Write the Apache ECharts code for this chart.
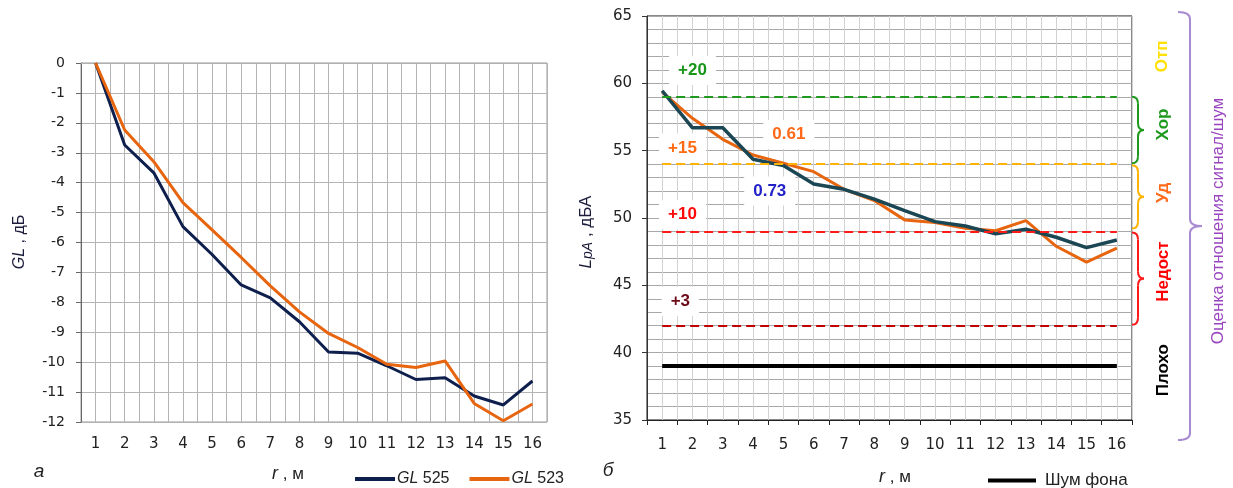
<!DOCTYPE html>
<html>
<head>
<meta charset="utf-8">
<script src="https://cdn.jsdelivr.net/npm/echarts@6/dist/echarts.min.js"></script>
<style>
html,body{margin:0;padding:0;background:#fff;}
#c{width:1233px;height:488px;}
</style>
</head>
<body>
<div id="c"></div>
<script>
// ---- data ----
const categories = ['1','2','3','4','5','6','7','8','9','10','11','12','13','14','15','16'];
const gl525 = [0, -2.74, -3.67, -5.47, -6.4, -7.42, -7.85, -8.65, -9.66, -9.7, -10.12, -10.58, -10.52, -11.13, -11.43, -10.63];
const gl523 = [0, -2.24, -3.3, -4.67, -5.58, -6.5, -7.45, -8.32, -9.04, -9.51, -10.07, -10.18, -9.96, -11.38, -11.96, -11.4];
const lpaTeal = [59.45, 56.7, 56.7, 54.36, 53.89, 52.53, 52.13, 51.4, 50.55, 49.73, 49.41, 48.82, 49.16, 48.57, 47.8, 48.37];
const lpaOrange = [59.35, 57.4, 55.84, 54.68, 54.07, 53.44, 52.13, 51.3, 49.86, 49.66, 49.24, 49.05, 49.8, 47.9, 46.72, 47.77];
const thresholds = [59, 54, 49, 42];
const thresholdLabels = ['+20', '+15', '+10', '+3'];
const noiseLevel = 39;
const corrLabels = ['0.61', '0.73'];
const yTicksLeft = {min: -12, max: 0, step: 1};
const yTicksRight = {min: 35, max: 65, step: 5};

const FT = 'DejaVu Sans';
const FA = 'Liberation Sans';
const thColors = ['#1f9a1f', '#ffb300', '#ff1a1a', '#c00000'];

const chart = echarts.init(document.getElementById('c'), null, {renderer: 'canvas'});

function thresholdMark(i) {
  return {
    silent: true, symbol: 'none', label: {show: false},
    lineStyle: {color: thColors[i], type: [9, 5], width: 2},
    data: [[{coord: [categories[0], thresholds[i]]}, {coord: [categories[categories.length - 1], thresholds[i]]}]]
  };
}

const option = {
  animation: false,
  backgroundColor: '#fff',
  grid: [
    {left: 81, top: 63, width: 466, height: 359, show: true, borderColor: '#999', borderWidth: 1},
    {left: 647, top: 16, width: 485, height: 404, show: true, borderColor: '#111', borderWidth: 1}
  ],
  xAxis: [
    {type: 'category', gridIndex: 0, data: categories, boundaryGap: true,
     axisLine: {lineStyle: {color: '#b0b0b0'}}, axisTick: {show: false},
     axisLabel: {fontFamily: FT, fontSize: 15, color: '#222', margin: 15}, splitLine: {show: false}},
    {type: 'value', gridIndex: 0, min: 0.5, max: 16.5, interval: 0.5,
     axisLine: {show: false}, axisTick: {show: false}, axisLabel: {show: false},
     splitLine: {show: true, lineStyle: {color: '#b4b4b4', width: 1}}},
    {type: 'category', gridIndex: 1, data: categories, boundaryGap: true,
     axisLine: {lineStyle: {color: '#222'}}, axisTick: {show: true, length: 5, lineStyle: {color: '#222'}},
     axisLabel: {fontFamily: FT, fontSize: 15, color: '#222', margin: 18}, splitLine: {show: false}},
    {type: 'value', gridIndex: 1, min: 0.5, max: 16.5, interval: 0.5,
     axisLine: {show: false}, axisTick: {show: false}, axisLabel: {show: false},
     splitLine: {show: true, lineStyle: {color: '#d2d2d2', width: 1}}}
  ],
  yAxis: [
    {type: 'value', gridIndex: 0, min: yTicksLeft.min, max: yTicksLeft.max, interval: yTicksLeft.step,
     axisLine: {show: true, lineStyle: {color: '#666'}}, axisTick: {show: true, length: 5, lineStyle: {color: '#666'}},
     axisLabel: {fontFamily: FT, fontSize: 14, color: '#222', margin: 16},
     splitLine: {show: true, lineStyle: {color: '#b4b4b4'}}},
    {type: 'value', gridIndex: 1, min: yTicksRight.min, max: yTicksRight.max, interval: yTicksRight.step,
     axisLine: {show: true, lineStyle: {color: '#333'}}, axisTick: {show: true, length: 5, lineStyle: {color: '#333'}},
     axisLabel: {fontFamily: FT, fontSize: 15, color: '#222', margin: 15},
     splitLine: {show: true, lineStyle: {color: '#a8a8a8'}},
     minorTick: {show: false, splitNumber: 5},
     minorSplitLine: {show: true, lineStyle: {color: '#a8a8a8'}}}
  ],
  legend: [
    {left: 350, top: 466, itemWidth: 40, itemHeight: 4, icon: 'rect', itemGap: 20,
     data: ['GL 525', 'GL 523'],
     formatter: n => '{i|GL} ' + n.split(' ')[1],
     textStyle: {fontFamily: FA, fontSize: 16, color: '#222', padding: [0, 0, 0, -3],
                 rich: {i: {fontFamily: FA, fontSize: 16, fontStyle: 'italic', color: '#222'}}}},
    {left: 983, top: 467, itemWidth: 48, itemHeight: 4, icon: 'rect',
     data: ['Шум фона'],
     textStyle: {fontFamily: FA, fontSize: 17, color: '#222', padding: [0, 0, 0, 4]}}
  ],
  series: [
    {name: 'GL 525', type: 'line', xAxisIndex: 0, yAxisIndex: 0, data: gl525, symbol: 'none',
     lineStyle: {color: '#0e1f4d', width: 3}, itemStyle: {color: '#0e1f4d'}, z: 3},
    {name: 'GL 523', type: 'line', xAxisIndex: 0, yAxisIndex: 0, data: gl523, symbol: 'none',
     lineStyle: {color: '#e8650f', width: 3}, itemStyle: {color: '#e8650f'}, z: 4},
    {name: 'th1', type: 'line', xAxisIndex: 2, yAxisIndex: 1, data: [], symbol: 'none', markLine: thresholdMark(0)},
    {name: 'th2', type: 'line', xAxisIndex: 2, yAxisIndex: 1, data: [], symbol: 'none', markLine: thresholdMark(1)},
    {name: 'th3', type: 'line', xAxisIndex: 2, yAxisIndex: 1, data: [], symbol: 'none', markLine: thresholdMark(2)},
    {name: 'th4', type: 'line', xAxisIndex: 2, yAxisIndex: 1, data: [], symbol: 'none', markLine: thresholdMark(3)},
    {name: 'Шум фона', type: 'line', xAxisIndex: 2, yAxisIndex: 1, data: [], symbol: 'none',
     itemStyle: {color: '#000'}, lineStyle: {color: '#000', width: 4},
     markLine: {silent: true, symbol: 'none', label: {show: false}, lineStyle: {color: '#000', type: 'solid', width: 4},
       data: [[{coord: [categories[0], noiseLevel]}, {coord: [categories[categories.length - 1], noiseLevel]}]]}},
    {name: 'LpA 523', type: 'line', xAxisIndex: 2, yAxisIndex: 1, data: lpaOrange, symbol: 'none',
     lineStyle: {color: '#e8650f', width: 3}, itemStyle: {color: '#e8650f'}, z: 3},
    {name: 'LpA 525', type: 'line', xAxisIndex: 2, yAxisIndex: 1, data: lpaTeal, symbol: 'none',
     lineStyle: {color: '#1b4654', width: 3.5}, itemStyle: {color: '#1b4654'}, z: 4},
    {name: 'labels', type: 'scatter', xAxisIndex: 3, yAxisIndex: 1, symbol: 'circle', symbolSize: 1,
     itemStyle: {color: 'rgba(255,255,255,0)', opacity: 1}, z: 6, silent: true,
     label: {show: true, position: 'inside', fontFamily: FA, fontWeight: 'bold', fontSize: 17,
             backgroundColor: '#fff', padding: [6, 9], opacity: 1},
     data: [
       {value: [2.0, 60.95], label: {formatter: thresholdLabels[0], color: '#17961a'}},
       {value: [1.67, 55.2], label: {formatter: thresholdLabels[1], color: '#ff6a12'}},
       {value: [1.67, 50.25], label: {formatter: thresholdLabels[2], color: '#ff0a0a'}},
       {value: [1.6, 43.8], label: {formatter: thresholdLabels[3], color: '#6e0a18'}},
       {value: [5.18, 56.2], label: {formatter: corrLabels[0], color: '#ff6a1a'}},
       {value: [4.55, 52.0], label: {formatter: corrLabels[1], color: '#2222c8'}}
     ]}
  ]
};
chart.setOption(option);

// ---- annotations (braces, rotated labels, axis names) ----
function px(v) { return chart.convertToPixel({xAxisIndex: 2, yAxisIndex: 1}, [categories[0], v])[1]; }
function braceEls(x0, y1, y2, w, color) {
  const xm = x0 + w / 2, xt = x0 + w, ym = (y1 + y2) / 2, r = Math.min(7, (y2 - y1) / 5);
  const st = {stroke: color, lineWidth: 2, fill: 'none'};
  const q = (a, b, c, d, e, f) => ({type: 'bezierCurve', silent: true,
    shape: {x1: a, y1: b, cpx1: c, cpy1: d, x2: e, y2: f}, style: st});
  const l = (a, b, c, d) => ({type: 'line', silent: true, shape: {x1: a, y1: b, x2: c, y2: d}, style: st});
  return [
    q(x0, y1, xm, y1, xm, y1 + r),
    l(xm, y1 + r, xm, ym - r),
    q(xm, ym - r, xm, ym, xt, ym),
    q(xt, ym, xm, ym, xm, ym + r),
    l(xm, ym + r, xm, y2 - r),
    q(xm, y2 - r, xm, y2, x0, y2)
  ];
}
const yTop = px(yTicksRight.max), yBot = px(yTicksRight.min);
const y59 = px(thresholds[0]), y54 = px(thresholds[1]), y49 = px(thresholds[2]), y42 = px(thresholds[3]);
const bx = 1132;
function vtext(x, y, text, color, size, bold) {
  return {type: 'text', x: x, y: y, rotation: Math.PI / 2, silent: true,
    style: {text: text, fill: color, fontFamily: FA, fontSize: size, fontWeight: bold ? 'bold' : 'normal',
            align: 'center', verticalAlign: 'middle'}};
}
const graphics = [].concat(
  braceEls(bx, y59, y54 - 1, 12, '#1f9a1f'),
  braceEls(bx, y54 + 1, y49 - 3, 12, '#ffb300'),
  braceEls(bx, y49 + 1, y42 - 1, 12, '#ff1a1a'),
  braceEls(1178, yTop - 4, yBot + 20, 24, '#a98bd2'),
  [
  vtext(1162, (yTop + y59) / 2, 'Отп', '#ffe000', 17, true),
  vtext(1163, (y59 + y54) / 2 - 6, 'Хор', '#1f9a1f', 17, true),
  vtext(1163, (y54 + y49) / 2 - 5, 'Уд', '#ff6a1a', 17, true),
  vtext(1163, (y49 + y42) / 2 - 7, 'Недост', '#ff0000', 17, true),
  vtext(1163, px(noiseLevel) + 4, 'Плохо', '#000', 17, true),
  vtext(1218, (yTop + yBot) / 2 + 3, 'Оценка отношения сигнал/шум', '#9a45c0', 17, false),
  {type: 'text', x: 20, y: 242, rotation: Math.PI / 2, silent: true,
   style: {text: '{i|GL} , дБ', fill: '#1c1c3c', fontFamily: FA, fontSize: 16, align: 'center', verticalAlign: 'middle',
           rich: {i: {fontStyle: 'italic', fontSize: 16, fontFamily: FA, fill: '#1c1c3c'}}}},
  {type: 'text', x: 586, y: 232, rotation: Math.PI / 2, silent: true,
   style: {text: '{i|L}{s|pA} , дБА', fill: '#1c1c3c', fontFamily: FA, fontSize: 17, align: 'center', verticalAlign: 'middle',
           rich: {i: {fontStyle: 'italic', fontSize: 17, fontFamily: FA, fill: '#1c1c3c'},
                  s: {fontStyle: 'italic', fontSize: 14, fontFamily: FA, fill: '#1c1c3c', padding: [4, 0, 0, 0]}}}},
  {type: 'text', x: 288, y: 474, silent: true,
   style: {text: '{i|r} , м', fill: '#222', fontFamily: FA, fontSize: 17, align: 'center', verticalAlign: 'middle',
           rich: {i: {fontStyle: 'italic', fontSize: 18, fontFamily: FA, fill: '#222'}}}},
  {type: 'text', x: 895, y: 477, silent: true,
   style: {text: '{i|r} , м', fill: '#222', fontFamily: FA, fontSize: 17, align: 'center', verticalAlign: 'middle',
           rich: {i: {fontStyle: 'italic', fontSize: 18, fontFamily: FA, fill: '#222'}}}},
  {type: 'text', x: 39, y: 472, silent: true,
   style: {text: 'а', fill: '#222', fontFamily: FA, fontSize: 19, fontStyle: 'italic', align: 'center', verticalAlign: 'middle'}},
  {type: 'text', x: 608, y: 471, silent: true,
   style: {text: 'б', fill: '#222', fontFamily: FA, fontSize: 19, fontStyle: 'italic', align: 'center', verticalAlign: 'middle'}}
  ]
);
chart.setOption({graphic: graphics});
</script>
</body>
</html>
